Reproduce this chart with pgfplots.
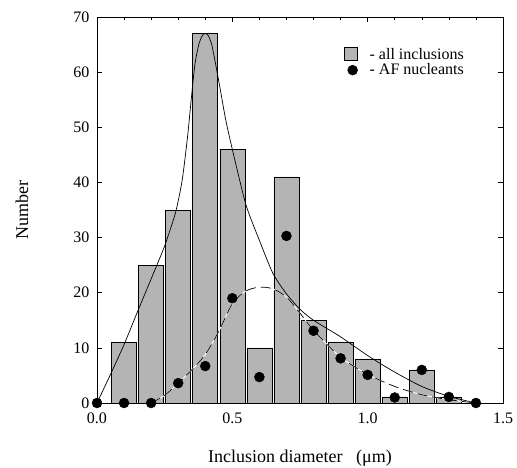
\documentclass[border=0pt]{standalone}
\usepackage{pgfplots}
\pgfplotsset{compat=1.18}
\usepackage{fontspec}
\setmainfont{Liberation Serif}
\definecolor{bargray}{RGB}{180,180,180}
\begin{document}
\begin{tikzpicture}
\useasboundingbox (-97pt,-64pt) rectangle (420pt,403pt);
\begin{axis}[
  scale only axis, width=406pt, height=386pt,
  xmin=0, xmax=1.5, ymin=0, ymax=70,
  clip=false,
  axis line style={line width=0.6pt},
  xtick={0,0.5,1,1.5}, xticklabels={0.0,0.5,1.0,1.5},
  minor x tick num=4,
  ytick={0,10,...,70},
  tick align=inside,
  major tick length=5pt, minor tick length=3pt,
  tick style={line width=0.6pt, black},
  tick label style={font=\fontsize{16}{18}\selectfont},
  xticklabel style={yshift=-6pt},
  yticklabel style={xshift=-4pt},
  /pgf/number format/assume math mode=true,
  label style={font=\fontsize{18}{20}\selectfont},
  xlabel={Inclusion diameter~~~(μm)},
  ylabel={Number},
  xlabel style={at={(axis description cs:0.5,-0.142)}, anchor=center},
  ylabel style={at={(axis description cs:-0.185,0.5)}, anchor=center},
  legend style={draw=none, fill=none, at={(rel axis cs:0.6,0.93)}, anchor=north west,
    font=\fontsize{16}{18}\selectfont, row sep=-1pt},
  legend cell align=left,
]
\addplot[ybar, bar width=25pt, fill=bargray, draw=black, line width=0.6pt, bar shift=0pt,
  legend image code/.code={\draw[fill=bargray, draw=black, line width=0.6pt] (0pt,-6pt) rectangle (13pt,7pt);}]
coordinates {(0.1,11) (0.2,25) (0.3,35) (0.4,67) (0.5,46) (0.6,10) (0.7,41) (0.8,15) (0.9,11) (1.0,8) (1.1,1.1) (1.2,6) (1.3,1.1)};
\addlegendentry{\hspace{10pt}- all inclusions}
% solid fit curve
\addplot[forget plot, black, line width=0.7pt, smooth, tension=0.4] coordinates {
(0,0) (0.05,5.2) (0.1,10.6) (0.15,16.6) (0.2,22.5) (0.25,28.5) (0.29,34.5) (0.315,40.5) (0.335,48.5) (0.35,56) (0.362,61.5) (0.377,65.2) (0.39,66.7) (0.4,67) (0.41,66.7) (0.423,65.2) (0.438,61.5) (0.455,57) (0.475,51.5) (0.5,46) (0.55,36) (0.6,29.5) (0.65,23.5) (0.7,19.8) (0.75,17) (0.8,15) (0.9,12) (1.0,8.6) (1.1,5.6) (1.2,3.0) (1.3,1.2) (1.4,0)};
% dashed fit curve: white underlay + black dashes
\addplot[forget plot, white, line width=0.9pt, smooth] coordinates {
(0.2,0) (0.25,1.4) (0.3,3.6) (0.35,6) (0.4,8.8) (0.45,13) (0.5,18) (0.55,20.3) (0.6,21) (0.65,20.7) (0.7,19.2) (0.75,16.3) (0.8,13.2) (0.9,8.3) (1.0,5.2) (1.1,3.0) (1.2,1.5) (1.3,0.6) (1.4,0)};
\addplot[forget plot, black, line width=0.7pt, dash pattern=on 10pt off 5pt, smooth] coordinates {
(0.2,0) (0.25,1.4) (0.3,3.6) (0.35,6) (0.4,8.8) (0.45,13) (0.5,18) (0.55,20.3) (0.6,21) (0.65,20.7) (0.7,19.2) (0.75,16.3) (0.8,13.2) (0.9,8.3) (1.0,5.2) (1.1,3.0) (1.2,1.5) (1.3,0.6) (1.4,0)};
\addplot[only marks, mark=*, mark size=5pt, black] coordinates {
(0,0) (0.1,0) (0.2,0) (0.3,3.6) (0.4,6.7) (0.5,19) (0.6,4.7) (0.7,30.3) (0.8,13.1) (0.9,8.1) (1.0,5.1) (1.1,1.0) (1.2,6.0) (1.3,1.1) (1.4,0)};
\addlegendentry{\hspace{10pt}- AF nucleants}
\end{axis}
\end{tikzpicture}
\end{document}
